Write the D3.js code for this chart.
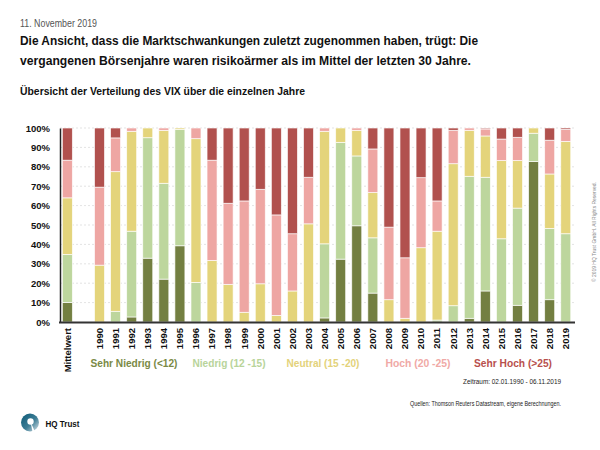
<!DOCTYPE html>
<html>
<head>
<meta charset="utf-8">
<script src="https://cdn.jsdelivr.net/npm/d3@7"></script>
<style>
  html, body { margin: 0; padding: 0; background: #fff; }
  svg { display: block; font-family: "Liberation Sans", Arial, Helvetica, sans-serif; }
</style>
</head>
<body>
<script>
// ---------- DATA ----------
const categories = ["Mittelwert", "1990", "1991", "1992", "1993", "1994", "1995", "1996", "1997", "1998", "1999",
  "2000", "2001", "2002", "2003", "2004", "2005", "2006", "2007", "2008", "2009",
  "2010", "2011", "2012", "2013", "2014", "2015", "2016", "2017", "2018", "2019"];

const sehrNiedrig = [10.1, 0, 0, 2.6, 32.9, 22.1, 39.3, 0, 0, 0, 0,
  0, 0, 0, 0, 2.1, 32.4, 49.6, 14.9, 0, 0,
  0, 0, 0, 1.9, 16.0, 0, 8.6, 82.7, 11.5, 0];
const niedrig = [24.7, 0, 5.5, 44.2, 62.1, 49.4, 60.0, 20.4, 0, 0, 0,
  0, 0, 0, 0, 38.2, 60.2, 36.0, 28.5, 0, 0,
  0, 1.0, 8.4, 73.2, 58.6, 42.9, 50.1, 14.6, 36.7, 45.5];
const neutral = [29.2, 29.3, 72.0, 51.5, 5.0, 27.3, 0.7, 74.1, 31.7, 19.4, 5.0,
  19.7, 3.4, 16.0, 50.6, 58.0, 7.4, 13.2, 23.3, 11.5, 1.9,
  38.3, 45.8, 73.2, 23.7, 21.3, 40.3, 24.5, 2.7, 28.1, 47.6];
const hoch = [19.4, 40.2, 17.4, 1.7, 0, 1.2, 0, 5.5, 51.7, 41.8, 57.4,
  48.7, 51.8, 29.5, 24.0, 1.7, 0, 1.2, 22.5, 37.4, 31.2,
  36.1, 15.6, 17.2, 1.2, 3.6, 11.1, 12.0, 0, 17.4, 6.2];
const sehrHoch = [16.6, 30.5, 5.1, 0, 0, 0, 0, 0, 16.6, 38.8, 37.6,
  31.6, 44.8, 54.5, 25.4, 0, 0, 0, 10.8, 51.1, 66.9,
  25.6, 37.6, 1.2, 0, 0.5, 5.7, 4.8, 0, 6.3, 0.7];

const seriesNames = ["Sehr Niedrig (<12)", "Niedrig (12 -15)", "Neutral (15 -20)", "Hoch (20 -25)", "Sehr Hoch (>25)"];
const seriesKeys = ["sn", "n", "ne", "h", "sh"];
const seriesColors = ["#737f41", "#bdd69d", "#e4d47b", "#eea6a3", "#b1514e"];
const legendColors = ["#7a8a46", "#b8d49a", "#e3d27a", "#f0a9a6", "#b8504d"];
const yTicks = [0, 10, 20, 30, 40, 50, 60, 70, 80, 90, 100];

// ---------- BUILD TABLE ----------
const table = categories.map((c, i) => ({
  cat: c, sn: sehrNiedrig[i], n: niedrig[i], ne: neutral[i], h: hoch[i], sh: sehrHoch[i]
}));
const stacked = d3.stack().keys(seriesKeys)(table);

// ---------- SVG ----------
const W = 600, H = 450;
const svg = d3.select("body").append("svg").attr("width", W).attr("height", H);

// Header texts
svg.append("text").attr("x", 20).attr("y", 27).attr("font-size", 10).attr("fill", "#555")
  .attr("textLength", 77).attr("lengthAdjust", "spacingAndGlyphs").text("11. November 2019");
svg.append("text").attr("x", 20).attr("y", 44.5).attr("font-size", 13.5).attr("font-weight", "bold").attr("fill", "#111")
  .attr("textLength", 458).attr("lengthAdjust", "spacingAndGlyphs")
  .text("Die Ansicht, dass die Marktschwankungen zuletzt zugenommen haben, trügt: Die");
svg.append("text").attr("x", 20).attr("y", 64.5).attr("font-size", 13.5).attr("font-weight", "bold").attr("fill", "#111")
  .attr("textLength", 451).attr("lengthAdjust", "spacingAndGlyphs")
  .text("vergangenen Börsenjahre waren risikoärmer als im Mittel der letzten 30 Jahre.");
svg.append("text").attr("x", 20).attr("y", 95).attr("font-size", 11.5).attr("font-weight", "bold").attr("fill", "#111")
  .attr("textLength", 285).attr("lengthAdjust", "spacingAndGlyphs")
  .text("Übersicht der Verteilung des VIX über die einzelnen Jahre");

// Scales
const domain = [categories[0], "gap"].concat(categories.slice(1));
const x = d3.scaleBand().domain(domain).range([59.3, 573.8]).paddingInner(0.378).paddingOuter(0.19);
const y = d3.scaleLinear().domain([0, 100]).range([322, 128]);

// Gridlines
svg.append("g").selectAll("line").data(yTicks.filter(d => d > 0)).join("line")
  .attr("x1", 60).attr("x2", 575).attr("y1", d => y(d)).attr("y2", d => y(d))
  .attr("stroke", "#dcdcdc").attr("stroke-width", 0.8).attr("stroke-dasharray", "2,2");

// Bars
const layers = svg.append("g").selectAll("g").data(stacked).join("g")
  .attr("fill", (d, i) => seriesColors[i]);
layers.selectAll("rect").data(d => d.filter(s => s[1] - s[0] > 0)).join("rect")
  .attr("x", d => x(d.data.cat))
  .attr("width", x.bandwidth())
  .attr("y", d => y(d[1]))
  .attr("height", d => y(d[0]) - y(d[1]))
  .attr("stroke", "#ffffff").attr("stroke-opacity", 0.8).attr("stroke-width", 0.8);

// Y axis
const yAxis = svg.append("g").attr("transform", "translate(60,0)")
  .call(d3.axisLeft(y).tickValues(yTicks).tickFormat(d => d + "%").tickSize(0).tickPadding(10));
yAxis.select(".domain").attr("stroke", "#222").attr("stroke-width", 1.5);
yAxis.selectAll("text").attr("font-size", 9.5).attr("font-weight", "bold").attr("fill", "#111")
  .attr("font-family", "'Liberation Sans', Arial, sans-serif");

// X axis
const xAxis = svg.append("g").attr("transform", "translate(0,322)")
  .call(d3.axisBottom(x).tickSize(0).tickFormat(d => d === "gap" ? "" : d));
xAxis.select(".domain").remove();
xAxis.selectAll("text")
  .attr("transform", "rotate(-90)")
  .attr("x", -6).attr("y", 0).attr("dy", "0.35em")
  .attr("text-anchor", "end")
  .attr("font-size", 9.5).attr("font-weight", "bold").attr("fill", "#111")
  .attr("font-family", "'Liberation Sans', Arial, sans-serif");
svg.append("line").attr("x1", 59).attr("x2", 575).attr("y1", 322.5).attr("y2", 322.5)
  .attr("stroke", "#333").attr("stroke-width", 2);

// Legend
const legendCenters = [134, 229, 323, 418, 513];
const legendWidths = [87, 73, 73, 65, 78];
svg.append("g").selectAll("text").data(seriesNames).join("text")
  .attr("x", (d, i) => legendCenters[i]).attr("y", 367)
  .attr("text-anchor", "middle").attr("font-size", 11).attr("font-weight", "bold")
  .attr("fill", (d, i) => legendColors[i])
  .attr("textLength", (d, i) => legendWidths[i]).attr("lengthAdjust", "spacingAndGlyphs")
  .text(d => d);

// Footnotes
svg.append("text").attr("x", 561).attr("y", 383.5).attr("text-anchor", "end").attr("font-size", 7.5).attr("fill", "#222")
  .attr("textLength", 98).attr("lengthAdjust", "spacingAndGlyphs")
  .text("Zeitraum: 02.01.1990 - 06.11.2019");
svg.append("text").attr("x", 561).attr("y", 405.5).attr("text-anchor", "end").attr("font-size", 6.5).attr("fill", "#222")
  .attr("textLength", 151).attr("lengthAdjust", "spacingAndGlyphs")
  .text("Quellen: Thomson Reuters Datastream, eigene Berechnungen.");

// Copyright vertical
svg.append("text").attr("transform", "translate(596,232) rotate(-90)").attr("text-anchor", "middle")
  .attr("font-size", 4.5).attr("fill", "#888")
  .attr("textLength", 100).attr("lengthAdjust", "spacingAndGlyphs")
  .text("© 2019 HQ Trust GmbH. All Rights Reserved.");

// Logo
const defs = svg.append("defs");
const grad = defs.append("linearGradient").attr("id", "lg").attr("x1", "0%").attr("y1", "0%").attr("x2", "100%").attr("y2", "100%");
grad.append("stop").attr("offset", "0%").attr("stop-color", "#0c5a77");
grad.append("stop").attr("offset", "55%").attr("stop-color", "#3d7d95");
grad.append("stop").attr("offset", "100%").attr("stop-color", "#dfe7ec");
svg.append("circle").attr("cx", 30).attr("cy", 422.5).attr("r", 9).attr("fill", "url(#lg)");
svg.append("circle").attr("cx", 30.5).attr("cy", 421.5).attr("r", 3.2).attr("fill", "#fff");
svg.append("path").attr("d", "M30.5,421.5 L35,432 L32.5,432 Z").attr("fill", "#fff");
svg.append("text").attr("x", 45.5).attr("y", 426.5).attr("font-size", 8.5).attr("font-weight", "bold").attr("fill", "#111")
  .attr("textLength", 34).attr("lengthAdjust", "spacingAndGlyphs").text("HQ Trust");
</script>
</body>
</html>
